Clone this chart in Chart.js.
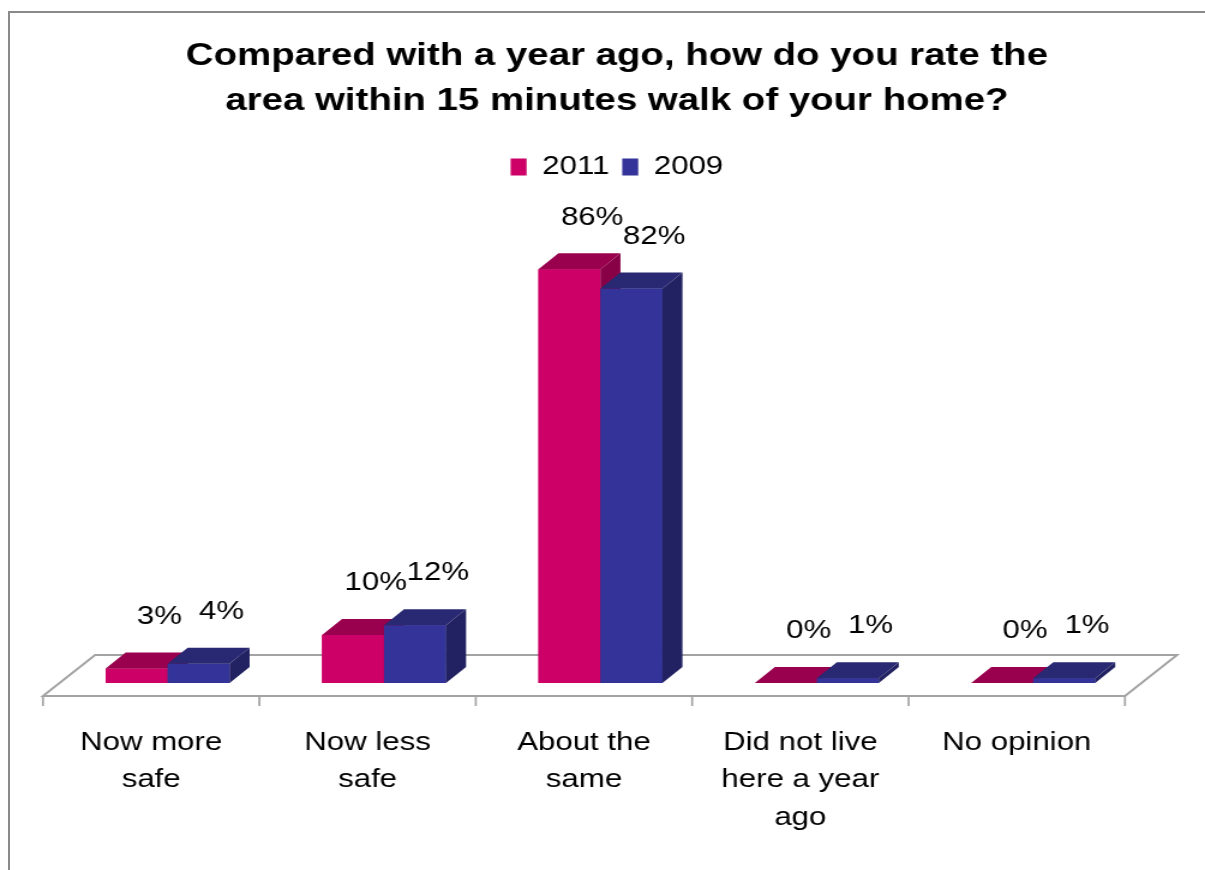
<!DOCTYPE html>
<html>
<head>
<meta charset="utf-8">
<script src="https://cdn.jsdelivr.net/npm/chart.js@4.4.1/dist/chart.umd.min.js"></script>
<style>
  html, body { margin: 0; padding: 0; background: #fff; overflow: hidden; }
  #frame { position: absolute; left: 8px; top: 11px; width: 1300px; height: 900px;
           border-left: 2px solid #8a8a8a; border-top: 2px solid #8a8a8a; }
  #wrap { position: absolute; left: 0; top: 0; transform: scaleX(1.2002); transform-origin: 0 0; }
</style>
</head>
<body>
<div id="frame"></div>
<div id="wrap"><canvas id="myChart" width="1004" height="870"></canvas></div>
<script>
const categories = [['Now more', 'safe'], ['Now less', 'safe'], ['About the', 'same'], ['Did not live', 'here a year', 'ago'], ['No opinion']];
const seriesNames = ['2011', '2009'];
const values2011 = [3, 10, 86, 0, 0];
const values2009 = [4, 12, 82, 1, 1];

// face colours for the fake 3d look
const faces = [
  { front: '#CC0066', top: '#99004D', side: '#880045' },
  { front: '#333399', top: '#292973', side: '#222262' }
];

// depth of the bars and of the floor (canvas px before the css stretch)
const depthX = 16.7, depthY = -16;
const floorShift = 13.7, floorDX = 43.4, floorFront = 13, floorBack = -28;

const legendHeight = {
  id: 'legendHeight',
  beforeInit(chart) {
    const fit = chart.legend.fit;
    chart.legend.fit = function () {
      fit.call(this);
      this.height = 58.8;
    };
  }
};

const bars3d = {
  id: 'bars3d',
  beforeDatasetsDraw(chart) {
    const { ctx, scales: { x, y } } = chart;
    const y0 = y.getPixelForValue(0);
    const n = chart.data.labels.length;
    const half = (x.getPixelForValue(1) - x.getPixelForValue(0)) / 2;
    const left = x.getPixelForValue(0) - half - floorShift;
    const right = x.getPixelForValue(n - 1) + half - floorShift;
    const yf = y0 + floorFront, yb = y0 + floorBack;
    ctx.save();
    ctx.strokeStyle = '#a3a3a3';
    ctx.lineWidth = 2;
    ctx.beginPath();
    ctx.moveTo(left, yf);
    ctx.lineTo(right, yf);
    ctx.lineTo(right + floorDX, yb);
    ctx.lineTo(left + floorDX, yb);
    ctx.closePath();
    ctx.stroke();
    ctx.lineWidth = 1.7;
    ctx.beginPath();
    for (let i = 0; i <= n; i++) {
      const tx = left + i * 2 * half;
      ctx.moveTo(tx, yf);
      ctx.lineTo(tx, yf + 10);
    }
    ctx.stroke();
    ctx.restore();
  },
  afterDatasetsDraw(chart) {
    const { ctx } = chart;
    const n = chart.data.labels.length;
    const metas = chart.data.datasets.map((d, i) => chart.getDatasetMeta(i));
    ctx.save();
    for (let i = 0; i < n; i++) {
      metas.forEach((meta, d) => {
        const { x, y, base, width } = meta.data[i].getProps(['x', 'y', 'base', 'width'], true);
        const l = x - width / 2, r = x + width / 2;
        const c = faces[d];
        ctx.fillStyle = c.front;
        ctx.fillRect(l, y, width, base - y);
        ctx.fillStyle = c.side;
        ctx.beginPath();
        ctx.moveTo(r, y);
        ctx.lineTo(r + depthX, y + depthY);
        ctx.lineTo(r + depthX, base + depthY);
        ctx.lineTo(r, base);
        ctx.closePath();
        ctx.fill();
        ctx.fillStyle = c.top;
        ctx.beginPath();
        ctx.moveTo(l, y);
        ctx.lineTo(l + depthX, y + depthY);
        ctx.lineTo(r + depthX, y + depthY);
        ctx.lineTo(r, y);
        ctx.closePath();
        ctx.fill();
      });
    }
    // value labels
    ctx.fillStyle = '#000';
    ctx.font = '26px "Liberation Sans", Arial, sans-serif';
    ctx.textAlign = 'center';
    ctx.textBaseline = 'middle';
    metas.forEach((meta, d) => {
      meta.data.forEach((bar, i) => {
        const v = chart.data.datasets[d].data[i];
        ctx.fillText(v + '%', bar.x + 19, bar.y - 52);
      });
    });
    ctx.restore();
  }
};

Chart.defaults.font.family = '"Liberation Sans", Arial, sans-serif';
Chart.defaults.color = '#000';

new Chart('myChart', {
  type: 'bar',
  data: {
    labels: categories,
    datasets: [{
      label: seriesNames[0],
      data: values2011,
      backgroundColor: faces[0].front,
      borderWidth: 0,
      categoryPercentage: 0.573,
      barPercentage: 1
    }, {
      label: seriesNames[1],
      data: values2009,
      backgroundColor: faces[1].front,
      borderWidth: 0,
      categoryPercentage: 0.573,
      barPercentage: 1
    }]
  },
  options: {
    responsive: false,
    animation: false,
    layout: { padding: { left: 24, right: 0, top: 0, bottom: 0 }, autoPadding: false },
    plugins: {
      title: {
        display: true,
        text: ['Compared with a year ago, how do you rate the', 'area within 15 minutes walk of your home?'],
        color: '#000',
        font: { size: 32, weight: 'bold', lineHeight: '45px' },
        padding: { top: 33.5, bottom: 19.7 }
      },
      legend: {
        position: 'top',
        labels: { boxWidth: 13.3, boxHeight: 17, padding: 10.8, color: '#000', font: { size: 26 } }
      },
      tooltip: { enabled: false }
    },
    scales: {
      x: {
        grid: { display: false, drawTicks: false },
        border: { display: false },
        ticks: {
          color: '#000',
          font: { size: 26, lineHeight: '37.5px' },
          padding: 41,
          labelOffset: -13.7,
          maxRotation: 0,
          autoSkip: false
        },
        afterFit(scale) { scale.height = 187; }
      },
      y: {
        min: 0,
        max: 100,
        grid: { display: false },
        border: { display: false },
        ticks: { display: false },
        afterFit(scale) { scale.width = 25.5; }
      },
      y2: {
        type: 'linear',
        position: 'right',
        grid: { display: false },
        border: { display: false },
        ticks: { display: false },
        afterFit(scale) { scale.width = 53; }
      }
    }
  },
  plugins: [legendHeight, bars3d]
});
</script>
</body>
</html>
